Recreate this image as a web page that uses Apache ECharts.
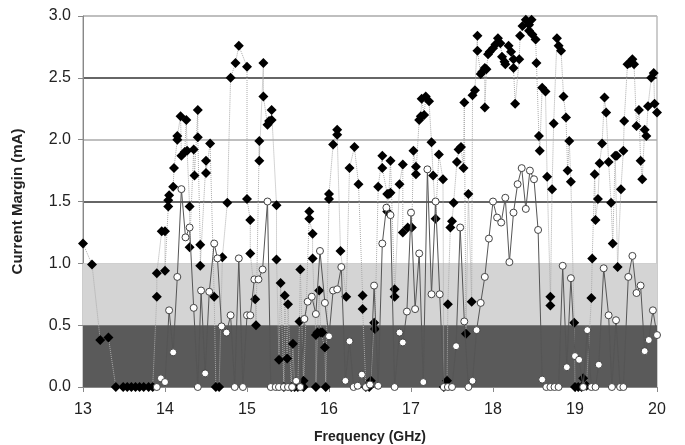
<!DOCTYPE html>
<html>
<head>
<meta charset="utf-8">
<script src="https://cdn.jsdelivr.net/npm/echarts@6/dist/echarts.min.js"></script>
<style>html,body{margin:0;padding:0;background:#fff}#c{width:685px;height:445px}</style>
</head>
<body>
<div id="c"></div>
<script>
// Tick labels
var xTicks = [13, 14, 15, 16, 17, 18, 19, 20];
var yTicks = [0.0, 0.5, 1.0, 1.5, 2.0, 2.5, 3.0];

// Series A (black diamonds, dotted line): frequency (GHz) / margin (mA)
var diamondFreq = [
13.00,13.11,13.21,13.31,13.40,13.49,13.54,13.59,13.64,13.69,13.74,13.80,13.85,13.90,13.90,13.96,14.00,14.00,14.04,14.04,
14.05,14.10,14.11,14.15,14.15,14.19,14.20,14.24,14.26,14.27,14.30,14.30,14.35,14.36,14.40,14.40,14.43,14.43,14.50,14.50,
14.55,14.60,14.62,14.66,14.70,14.76,14.80,14.86,14.90,15.00,15.00,15.04,15.04,15.10,15.11,15.15,15.15,15.20,15.20,15.25,
15.27,15.30,15.30,15.36,15.36,15.39,15.41,15.45,15.46,15.49,15.50,15.54,15.56,15.58,15.62,15.64,15.65,15.69,15.69,15.76,
15.76,15.80,15.80,15.84,15.84,15.86,15.88,15.90,15.92,15.95,15.96,16.00,16.00,16.05,16.10,16.10,16.14,16.21,16.25,16.31,
16.36,16.41,16.41,16.45,16.49,16.51,16.55,16.56,16.60,16.65,16.65,16.71,16.71,16.73,16.75,16.75,16.80,16.80,16.86,16.90,
16.90,16.96,17.01,17.03,17.06,17.06,17.10,17.12,17.13,17.16,17.18,17.22,17.25,17.27,17.30,17.34,17.39,17.40,17.44,17.45,
17.48,17.50,17.52,17.56,17.58,17.61,17.64,17.65,17.67,17.70,17.74,17.75,17.78,17.81,17.81,17.85,17.87,17.90,17.90,17.92,
17.94,17.96,18.00,18.03,18.06,18.09,18.11,18.14,18.15,18.19,18.22,18.25,18.25,18.27,18.32,18.33,18.36,18.40,18.44,18.44,
18.47,18.48,18.52,18.53,18.56,18.57,18.60,18.64,18.66,18.70,18.70,18.72,18.74,18.78,18.80,18.83,18.86,18.89,18.91,18.93,
18.95,18.99,19.00,19.04,19.08,19.10,19.14,19.20,19.21,19.24,19.25,19.28,19.30,19.33,19.36,19.38,19.41,19.44,19.46,19.49,
19.51,19.52,19.56,19.59,19.60,19.64,19.67,19.70,19.72,19.75,19.78,19.80,19.82,19.85,19.87,19.89,19.93,19.96,19.97,20.00
];
var diamondMargin = [
1.16,0.99,0.38,0.40,0,0,0,0,0,0,0,0,0,0.73,0.92,1.26,1.26,0.94,1.46,1.51,
1.55,1.62,1.77,2.00,2.03,2.19,1.87,1.90,2.16,1.91,1.46,1.13,1.92,1.71,2.24,2.02,1.15,0.98,1.83,1.73,
1.97,0.73,0,0,1.05,1.49,2.50,2.62,2.76,2.59,1.52,1.35,1.08,0.71,0.50,1.99,1.83,2.62,2.35,2.12,
2.15,2.16,2.24,1.47,1.03,0.22,0.84,0,0.74,0.23,0.67,0,0.35,0,0,0.53,0.95,0.05,0,1.42,
1.36,1.24,1.04,0.42,0,0.44,0.78,0.44,0.44,0.32,0,1.52,1.56,1.96,2.08,2.04,1.10,0.73,1.77,1.94,
1.64,0.74,0.63,0,0,0.05,0.52,0.47,1.62,1.87,1.77,1.56,1.42,1.56,1.57,1.83,0.79,0.73,1.64,1.80,
1.25,1.29,1.29,1.91,1.78,1.72,2.16,2.19,2.33,2.20,2.35,2.31,1.98,1.71,1.36,1.88,1.68,0,0.05,0.67,
1.29,1.34,1.49,1.82,1.92,1.94,1.77,2.30,0.43,1.56,0.69,2.36,2.40,2.84,2.72,2.53,2.55,2.58,2.26,2.57,
2.69,2.71,2.74,2.77,2.82,2.78,2.67,2.63,2.61,2.76,2.71,2.65,2.58,2.29,2.65,2.84,2.92,2.97,2.93,2.88,
2.97,2.85,2.81,2.62,2.03,1.91,2.42,2.39,1.70,0.73,0.66,1.60,2.13,2.82,2.76,2.72,2.35,2.18,1.75,1.99,
1.66,0.52,0,0,0,0.07,0.01,0.72,1.04,1.72,1.35,1.52,1.81,1.97,2.34,2.22,1.82,1.49,1.16,1.87,
1.87,0.97,1.60,1.91,2.15,2.61,2.62,2.65,2.61,2.11,2.24,1.83,1.68,2.08,2.03,2.27,2.50,2.54,2.29,2.22
];

// Series B (white circles, solid line)
var circleFreq = [
13.90,13.95,14.00,14.05,14.10,14.15,14.20,14.25,14.30,14.35,14.40,14.44,14.49,14.54,14.60,14.64,14.69,14.75,14.80,14.85,
14.90,14.95,15.00,15.04,15.09,15.14,15.19,15.25,15.29,15.35,15.39,15.45,15.50,15.55,15.60,15.65,15.70,15.74,15.79,15.84,
15.89,15.95,16.00,16.05,16.10,16.15,16.20,16.25,16.30,16.35,16.40,16.45,16.50,16.55,16.60,16.65,16.70,16.75,16.80,16.86,
16.90,16.95,17.00,17.05,17.10,17.15,17.20,17.25,17.30,17.35,17.40,17.45,17.50,17.55,17.60,17.65,17.70,17.75,17.80,17.85,
17.90,17.95,18.00,18.05,18.10,18.15,18.20,18.25,18.30,18.35,18.40,18.45,18.50,18.55,18.60,18.65,18.70,18.75,18.80,18.85,
18.90,18.95,19.00,19.05,19.10,19.15,19.20,19.25,19.29,19.35,19.41,19.45,19.50,19.55,19.59,19.65,19.70,19.75,19.80,19.85,
19.90,19.95,20.00
];
var circleMargin = [
0,0.07,0.04,0.62,0.28,0.89,1.60,1.21,1.29,0.64,0,0.78,0.11,0.77,1.16,1.04,0.49,0.44,0.58,0,
1.04,0,0.58,0.58,0.87,0.87,0.95,1.50,0,0,0,0,0,0,0.05,0,0.55,0.69,0.73,0.59,
1.10,0.68,0.41,0.78,0.79,0.97,0.05,0.37,0,0.01,0.10,0,0.02,0.82,0.01,1.16,1.45,1.39,0,0.44,
0.36,0.61,1.41,0.63,1.08,0.04,1.76,0.75,1.50,0.75,0,0,0,0.33,1.29,0.53,0,0.05,0.46,0.68,
0.89,1.20,1.50,1.37,1.33,1.53,1.01,1.41,1.64,1.77,1.44,1.75,1.68,1.27,0.06,0,0,0,0,0.98,
0.16,0.88,0.25,0.22,0,0.46,0,0,0.18,0.96,0.58,0,0.54,0,0,0.89,1.06,0.76,0.82,0.29,
0.38,0.62,0.42
];

// Shaded margin bands (mA)
var bandDark = [0, 0.5];
var bandLight = [0.5, 1.0];

function pairs(xs, ys) { return xs.map(function (x, i) { return [x, ys[i]]; }); }

var chart = echarts.init(document.getElementById('c'), null, { renderer: 'canvas' });
var font = 'Liberation Sans, Arial, sans-serif';
chart.setOption({
  animation: false,
  backgroundColor: '#fff',
  grid: { left: 83, right: 28, top: 16, bottom: 58, outerBoundsMode: 'none', containLabel: false,
          show: true, borderColor: '#999', borderWidth: 1, backgroundColor: 'transparent' },
  xAxis: {
    type: 'value', min: xTicks[0], max: xTicks[xTicks.length - 1], interval: 1,
    name: 'Frequency (GHz)', nameLocation: 'middle', nameGap: 43,
    nameTextStyle: { fontFamily: font, fontWeight: 'bold', fontSize: 14, color: '#222' },
    axisLine: { show: true, lineStyle: { color: '#888', width: 1 } },
    axisTick: { show: true, length: 5, lineStyle: { color: '#888' } },
    axisLabel: { fontFamily: font, fontSize: 16, color: '#222', margin: 15 },
    splitLine: { show: false }
  },
  yAxis: {
    type: 'value', min: yTicks[0], max: yTicks[yTicks.length - 1], interval: 0.5,
    name: 'Current Margin (mA)', nameLocation: 'middle', nameGap: 58, nameRotate: 90,
    nameTextStyle: { fontFamily: font, fontWeight: 'bold', fontSize: 15, color: '#222' },
    axisLine: { show: true, lineStyle: { color: '#888', width: 1 } },
    axisTick: { show: true, length: 5, lineStyle: { color: '#888' } },
    axisLabel: { fontFamily: font, fontSize: 16, color: '#222', margin: 12, formatter: function (v) { return v.toFixed(1); } },
    splitLine: { show: true, lineStyle: { color: ['#888', '#333', '#aaa', '#333', '#aaa', '#333', '#bbb'], width: 1.5 } }
  },
  series: [
    {
      type: 'line', data: [], z: -1, silent: true,
      markArea: {
        silent: true,
        data: [
          [{ yAxis: bandDark[0], itemStyle: { color: '#5a5a5a' } }, { yAxis: bandDark[1] }],
          [{ yAxis: bandLight[0], itemStyle: { color: '#d4d4d4' } }, { yAxis: bandLight[1] }]
        ]
      }
    },
    {
      type: 'line', data: pairs(diamondFreq, diamondMargin), z: 3,
      symbol: 'diamond', symbolSize: 10, showAllSymbol: true,
      itemStyle: { color: '#000', borderColor: '#000', borderWidth: 0 },
      lineStyle: { color: '#aaa', width: 1, type: 'dotted' }
    },
    {
      type: 'line', data: pairs(circleFreq, circleMargin), z: 4,
      symbol: 'circle', symbolSize: 7, showAllSymbol: true,
      itemStyle: { color: '#fff', borderColor: '#444', borderWidth: 1 },
      lineStyle: { color: '#555', width: 1 }
    }
  ]
});
</script>
</body>
</html>
